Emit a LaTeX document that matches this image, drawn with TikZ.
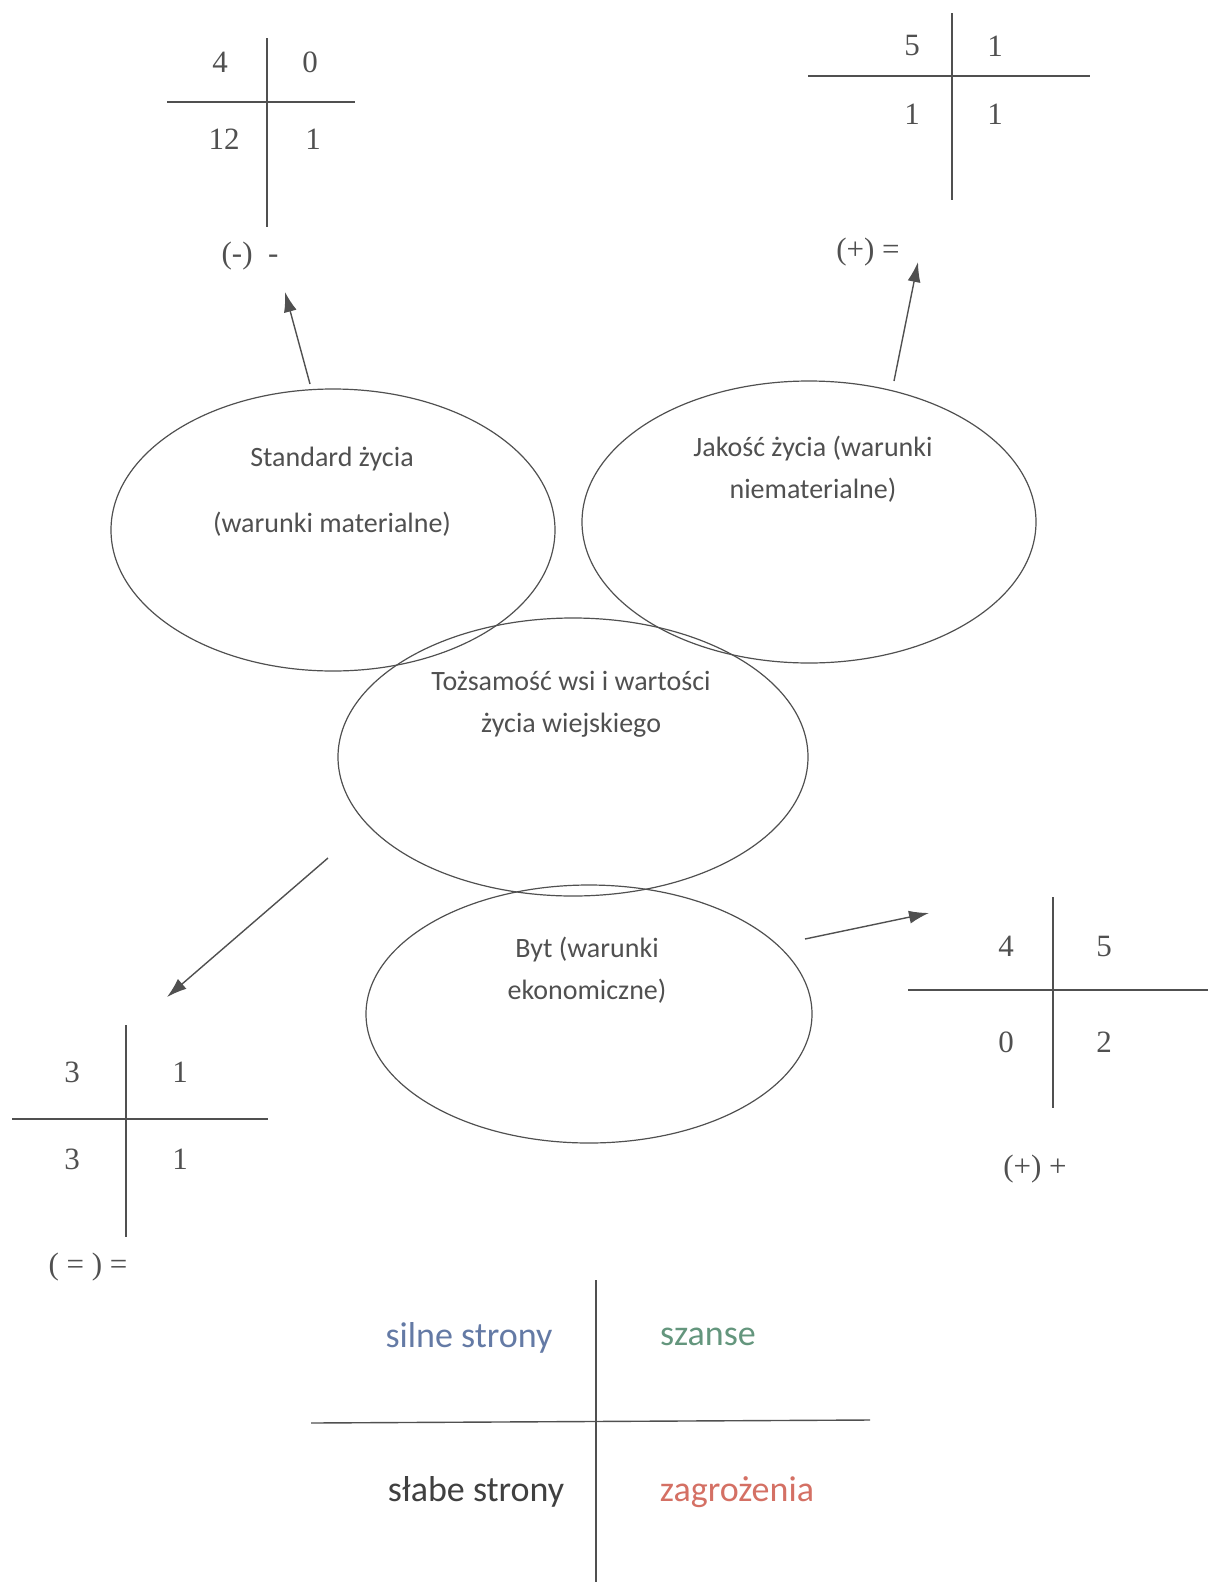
\documentclass[tikz,border=0pt]{standalone}
\usepackage{fontspec}
\setmainfont{Liberation Serif}
\newfontfamily\carlito{Carlito}
\usetikzlibrary{shapes.geometric,arrows.meta}
\definecolor{inkgrey}{RGB}{80,80,80}
\definecolor{swotblue}{RGB}{100,122,165}
\definecolor{swotgreen}{RGB}{100,150,125}
\definecolor{swotred}{RGB}{212,112,100}

\begin{document}
\begin{tikzpicture}[x=1pt,y=-1pt]
\tikzstyle{area} = [ellipse, draw=inkgrey, line width=1.2pt, inner sep=0pt]
\tikzstyle{areatext} = [font=\carlito\fontsize{28}{42}\selectfont, text=inkgrey, align=center]
\tikzstyle{score} = [font=\fontsize{31}{36}\selectfont, text=inkgrey]
\tikzstyle{rule} = [draw=inkgrey, line width=1.4pt]
\tikzstyle{swot} = [font=\carlito\fontsize{36}{42}\selectfont]

\useasboundingbox (0,0) rectangle (1208,1582);

% the four areas
\node (std) [area, minimum width=444pt, minimum height=282pt] at (333,530) {};
\node (jak) [area, minimum width=454pt, minimum height=282pt] at (809,522) {};
\node (toz) [area, minimum width=470pt, minimum height=278pt] at (573,757) {};
\node (byt) [area, minimum width=446pt, minimum height=258pt] at (589,1014) {};

\node (stdtext) [areatext] at (332,492) {Standard życia\\[24pt](warunki materialne)};
\node (jaktext) [areatext] at (813,469) {Jakość życia (warunki\\niematerialne)};
\node (toztext) [areatext] at (571,704) {Tożsamość wsi i wartości\\życia wiejskiego};
\node (byttext) [areatext] at (587,970) {Byt (warunki\\ekonomiczne)};

% arrows out of the areas
\coordinate (stdtail) at (310,384);
\coordinate (stdtip) at (285,292);
\coordinate (jaktail) at (894,381);
\coordinate (jaktip) at (918,262);
\coordinate (toztail) at (328,858);
\coordinate (toztip) at (167,997);
\coordinate (byttail) at (805,939);
\coordinate (byttip) at (929,913);

\path [-{Latex[length=20pt,width=13pt]}, color=inkgrey, line width=1.4pt]
      (stdtail) edge (stdtip)
      (jaktail) edge (jaktip)
      (toztail) edge (toztip)
      (byttail) edge (byttip);

% table for Standard
\draw [rule] (267,38) -- (267,227);
\draw [rule] (167,102) -- (355,102);
\node (s11) [score] at (220,62) {4};
\node (s12) [score] at (310,62) {0};
\node (s21) [score] at (224,139) {12};
\node (s22) [score] at (313,139) {1};
\node (srate) [score] at (250,256) {(-)~~-};

% table for Jakosc
\draw [rule] (952,13) -- (952,200);
\draw [rule] (808,76) -- (1090,76);
\node (j11) [score] at (912,46) {5};
\node (j12) [score] at (995,46) {1};
\node (j21) [score] at (912,114) {1};
\node (j22) [score] at (995,114) {1};
\node (jrate) [score] at (868,252) {(+) =};

% table for Tozsamosc
\draw [rule] (126,1025) -- (126,1237);
\draw [rule] (12,1119) -- (268,1119);
\node (t11) [score] at (72,1072) {3};
\node (t12) [score] at (180,1072) {1};
\node (t21) [score] at (72,1159) {3};
\node (t22) [score] at (180,1159) {1};
\node (trate) [score] at (88,1267) {( = ) =};

% table for Byt
\draw [rule] (1053,897) -- (1053,1108);
\draw [rule] (908,990) -- (1208,990);
\node (b11) [score] at (1006,946) {4};
\node (b12) [score] at (1104,946) {5};
\node (b21) [score] at (1006,1042) {0};
\node (b22) [score] at (1104,1042) {2};
\node (brate) [score] at (1035,1169) {(+) +};

% legend
\draw [rule] (596,1280) -- (596,1582);
\draw [rule] (311,1423) -- (870,1420);
\node (strong) [swot, text=swotblue] at (469,1338) {silne strony};
\node (chance) [swot, text=swotgreen] at (708,1337) {szanse};
\node (weak) [swot, text=black!75] at (476,1492) {słabe strony};
\node (threat) [swot, text=swotred] at (737,1492) {zagrożenia};
\end{tikzpicture}
\end{document}
